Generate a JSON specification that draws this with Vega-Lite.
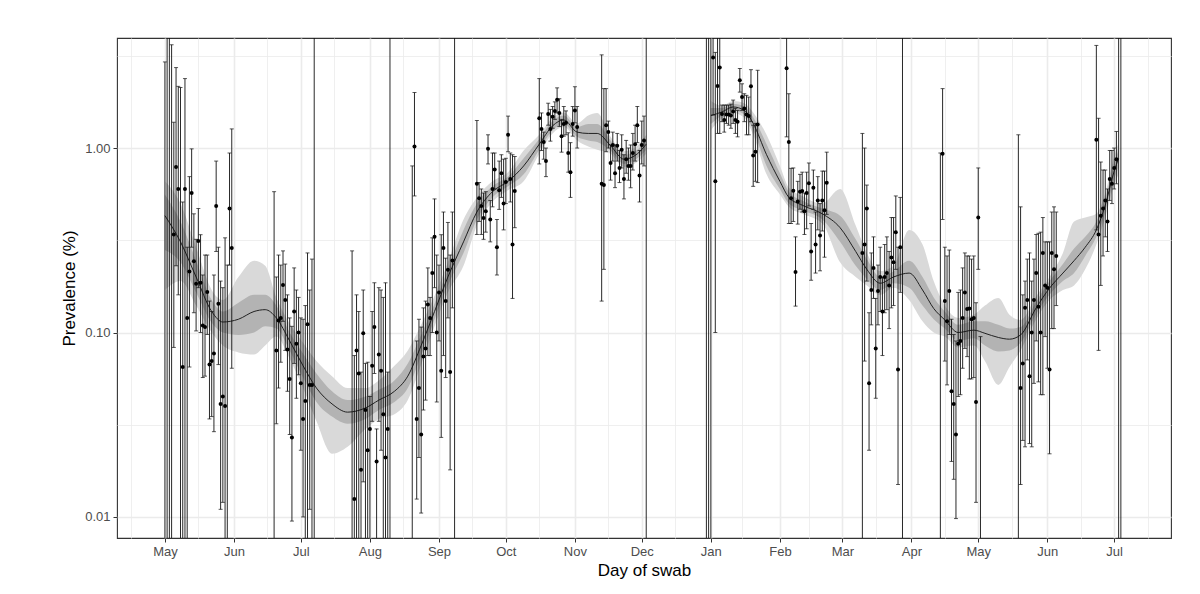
{
"$schema": "https://vega.github.io/schema/vega-lite/v6.json",
"width": 1054, "height": 500,
"autosize": {"type": "none"},
"padding": {"left": 117, "top": 38, "right": 29, "bottom": 56},
"background": "white",
"config": {
 "font": "Liberation Sans",
 "view": {"stroke": "#333333", "strokeWidth": 1.1},
 "axis": {"labelFont": "Liberation Sans", "titleFont": "Liberation Sans", "labelFontSize": 13, "labelColor": "#4d4d4d", "titleFontSize": 17, "titleFontWeight": "normal", "titleColor": "#000000", "tickColor": "#333333", "tickWidth": 1, "tickSize": 4, "domain": false, "gridColor": "#ebebeb"}
},
"datasets": {
"pts": [
{"d":"2020-05-01","v":null,"lo":0.001,"hi":2.93},
{"d":"2020-05-02","v":null,"lo":0.001,"hi":6},
{"d":"2020-05-03","v":null,"lo":0.001,"hi":6},
{"d":"2020-05-04","v":null,"lo":0.001,"hi":3.63},
{"d":"2020-05-05","v":0.34,"lo":0.083,"hi":1.38},
{"d":"2020-05-06","v":0.79,"lo":0.23,"hi":2.73},
{"d":"2020-05-07","v":0.60,"lo":0.16,"hi":2.16},
{"d":"2020-05-08","v":null,"lo":0.001,"hi":2.13},
{"d":"2020-05-09","v":0.065,"lo":0.001,"hi":0.51},
{"d":"2020-05-10","v":0.60,"lo":0.001,"hi":2.38},
{"d":"2020-05-11","v":0.12,"lo":0.001,"hi":0.29},
{"d":"2020-05-12","v":0.214,"lo":0.065,"hi":0.70},
{"d":"2020-05-13","v":0.57,"lo":0.29,"hi":0.99},
{"d":"2020-05-14","v":0.243,"lo":0.128,"hi":0.44},
{"d":"2020-05-15","v":0.184,"lo":0.102,"hi":0.32},
{"d":"2020-05-16","v":0.313,"lo":0.175,"hi":0.47},
{"d":"2020-05-17","v":0.186,"lo":0.10,"hi":0.339},
{"d":"2020-05-18","v":0.109,"lo":0.057,"hi":0.205},
{"d":"2020-05-19","v":0.107,"lo":0.058,"hi":0.263},
{"d":"2020-05-20","v":0.166,"lo":0.0975,"hi":0.263},
{"d":"2020-05-21","v":0.067,"lo":0.034,"hi":0.148},
{"d":"2020-05-22","v":0.07,"lo":0.035,"hi":0.13},
{"d":"2020-05-23","v":0.077,"lo":0.029,"hi":0.205},
{"d":"2020-05-24","v":0.485,"lo":0.275,"hi":0.85},
{"d":"2020-05-25","v":0.143,"lo":0.067,"hi":0.29},
{"d":"2020-05-26","v":0.041,"lo":0.011,"hi":0.19},
{"d":"2020-05-27","v":0.045,"lo":0.012,"hi":0.175},
{"d":"2020-05-28","v":0.040,"lo":0.001,"hi":0.326},
{"d":"2020-05-29","v":null,"lo":0.001,"hi":0.232},
{"d":"2020-05-30","v":0.47,"lo":0.232,"hi":0.94},
{"d":"2020-05-31","v":0.287,"lo":0.064,"hi":1.27},
{"d":"2020-06-19","v":null,"lo":0.001,"hi":0.58},
{"d":"2020-06-20","v":0.08,"lo":0.032,"hi":0.20},
{"d":"2020-06-21","v":0.116,"lo":0.050,"hi":0.263},
{"d":"2020-06-22","v":0.12,"lo":0.069,"hi":0.232},
{"d":"2020-06-23","v":0.181,"lo":0.115,"hi":0.277},
{"d":"2020-06-24","v":0.15,"lo":0.080,"hi":0.235},
{"d":"2020-06-25","v":0.081,"lo":0.048,"hi":0.16},
{"d":"2020-06-26","v":0.056,"lo":0.028,"hi":0.12},
{"d":"2020-06-27","v":0.027,"lo":0.0095,"hi":0.108},
{"d":"2020-06-28","v":0.13,"lo":0.068,"hi":0.224},
{"d":"2020-06-29","v":0.087,"lo":0.044,"hi":0.17},
{"d":"2020-06-30","v":0.10,"lo":0.059,"hi":0.155},
{"d":"2020-07-01","v":0.053,"lo":0.023,"hi":0.12},
{"d":"2020-07-02","v":0.034,"lo":0.010,"hi":0.118},
{"d":"2020-07-03","v":0.0425,"lo":0.001,"hi":0.14},
{"d":"2020-07-04","v":0.111,"lo":0.001,"hi":0.27},
{"d":"2020-07-05","v":0.052,"lo":0.011,"hi":0.17},
{"d":"2020-07-06","v":0.052,"lo":0.001,"hi":0.25},
{"d":"2020-07-07","v":null,"lo":0.001,"hi":6},
{"d":"2020-07-24","v":null,"lo":0.001,"hi":0.277},
{"d":"2020-07-25","v":0.0125,"lo":0.001,"hi":0.075},
{"d":"2020-07-26","v":0.080,"lo":0.001,"hi":0.16},
{"d":"2020-07-27","v":0.06,"lo":0.001,"hi":0.13},
{"d":"2020-07-28","v":0.018,"lo":0.001,"hi":0.061},
{"d":"2020-07-29","v":0.099,"lo":0.0155,"hi":0.17},
{"d":"2020-07-30","v":0.038,"lo":0.001,"hi":0.068},
{"d":"2020-07-31","v":0.023,"lo":0.001,"hi":0.069},
{"d":"2020-08-01","v":0.03,"lo":0.001,"hi":0.045},
{"d":"2020-08-02","v":0.066,"lo":0.033,"hi":0.13},
{"d":"2020-08-03","v":0.107,"lo":0.06,"hi":0.186},
{"d":"2020-08-04","v":0.02,"lo":0.001,"hi":0.03},
{"d":"2020-08-05","v":0.076,"lo":0.033,"hi":0.175},
{"d":"2020-08-06","v":0.062,"lo":0.023,"hi":0.17},
{"d":"2020-08-07","v":0.036,"lo":0.001,"hi":0.155},
{"d":"2020-08-08","v":0.021,"lo":0.001,"hi":0.186},
{"d":"2020-08-09","v":0.03,"lo":0.001,"hi":0.061},
{"d":"2020-08-10","v":null,"lo":0.001,"hi":6},
{"d":"2020-08-20","v":null,"lo":0.001,"hi":0.8},
{"d":"2020-08-21","v":1.02,"lo":0.55,"hi":2.0},
{"d":"2020-08-22","v":0.034,"lo":0.0125,"hi":0.09},
{"d":"2020-08-23","v":0.05,"lo":0.021,"hi":0.118},
{"d":"2020-08-24","v":0.028,"lo":0.0105,"hi":0.107},
{"d":"2020-08-25","v":0.074,"lo":0.038,"hi":0.136},
{"d":"2020-08-26","v":0.082,"lo":0.043,"hi":0.148},
{"d":"2020-08-27","v":0.142,"lo":0.075,"hi":0.224},
{"d":"2020-08-28","v":0.12,"lo":0.075,"hi":0.155},
{"d":"2020-08-29","v":0.21,"lo":0.10,"hi":0.326},
{"d":"2020-08-30","v":0.33,"lo":0.175,"hi":0.53},
{"d":"2020-08-31","v":0.10,"lo":0.042,"hi":0.263},
{"d":"2020-09-01","v":0.165,"lo":0.09,"hi":0.232},
{"d":"2020-09-02","v":0.062,"lo":0.027,"hi":0.339},
{"d":"2020-09-03","v":0.287,"lo":0.075,"hi":0.45},
{"d":"2020-09-04","v":0.148,"lo":0.057,"hi":0.253},
{"d":"2020-09-05","v":0.219,"lo":0.12,"hi":0.395},
{"d":"2020-09-06","v":0.061,"lo":0.018,"hi":0.263},
{"d":"2020-09-07","v":0.246,"lo":0.136,"hi":0.45},
{"d":"2020-09-08","v":null,"lo":0.001,"hi":6},
{"d":"2020-09-18","v":0.64,"lo":0.34,"hi":1.41},
{"d":"2020-09-19","v":0.535,"lo":0.40,"hi":0.65},
{"d":"2020-09-20","v":0.485,"lo":0.34,"hi":0.60},
{"d":"2020-09-21","v":0.417,"lo":0.32,"hi":0.57},
{"d":"2020-09-22","v":0.455,"lo":0.35,"hi":0.58},
{"d":"2020-09-23","v":0.99,"lo":0.82,"hi":1.18},
{"d":"2020-09-24","v":0.41,"lo":0.31,"hi":0.52},
{"d":"2020-09-25","v":0.60,"lo":0.48,"hi":0.94},
{"d":"2020-09-26","v":0.765,"lo":0.60,"hi":0.94},
{"d":"2020-09-27","v":0.29,"lo":0.205,"hi":0.41},
{"d":"2020-09-28","v":0.59,"lo":0.465,"hi":0.85},
{"d":"2020-09-29","v":0.73,"lo":0.54,"hi":0.92},
{"d":"2020-09-30","v":0.50,"lo":0.36,"hi":0.87},
{"d":"2020-10-01","v":0.655,"lo":0.50,"hi":0.88},
{"d":"2020-10-02","v":1.18,"lo":0.955,"hi":1.49},
{"d":"2020-10-03","v":0.68,"lo":0.51,"hi":0.94},
{"d":"2020-10-04","v":0.30,"lo":0.153,"hi":0.92},
{"d":"2020-10-05","v":0.585,"lo":0.37,"hi":0.90},
{"d":"2020-10-16","v":1.45,"lo":0.82,"hi":2.38},
{"d":"2020-10-17","v":1.27,"lo":0.97,"hi":1.55},
{"d":"2020-10-18","v":1.08,"lo":0.87,"hi":1.22},
{"d":"2020-10-19","v":0.85,"lo":0.70,"hi":1.0},
{"d":"2020-10-20","v":1.53,"lo":1.33,"hi":1.75},
{"d":"2020-10-21","v":1.27,"lo":1.09,"hi":1.62},
{"d":"2020-10-22","v":1.48,"lo":1.28,"hi":1.68},
{"d":"2020-10-23","v":1.59,"lo":1.43,"hi":1.78},
{"d":"2020-10-24","v":1.83,"lo":1.55,"hi":2.12},
{"d":"2020-10-25","v":1.55,"lo":1.31,"hi":1.85},
{"d":"2020-10-26","v":1.16,"lo":0.95,"hi":1.43},
{"d":"2020-10-27","v":1.35,"lo":1.16,"hi":1.68},
{"d":"2020-10-28","v":1.37,"lo":1.18,"hi":1.59},
{"d":"2020-10-29","v":0.94,"lo":0.74,"hi":1.21},
{"d":"2020-10-30","v":0.74,"lo":0.54,"hi":1.07},
{"d":"2020-10-31","v":1.35,"lo":1.16,"hi":1.68},
{"d":"2020-11-01","v":1.6,"lo":1.37,"hi":2.15},
{"d":"2020-11-02","v":1.3,"lo":1.0,"hi":1.68},
{"d":"2020-11-13","v":0.64,"lo":0.148,"hi":3.2},
{"d":"2020-11-14","v":0.63,"lo":0.22,"hi":2.1},
{"d":"2020-11-15","v":1.33,"lo":0.955,"hi":2.1},
{"d":"2020-11-16","v":1.22,"lo":1.0,"hi":1.4},
{"d":"2020-11-17","v":0.83,"lo":0.67,"hi":1.04},
{"d":"2020-11-18","v":1.04,"lo":0.85,"hi":1.22},
{"d":"2020-11-19","v":0.73,"lo":0.61,"hi":1.04},
{"d":"2020-11-20","v":1.03,"lo":0.85,"hi":1.2},
{"d":"2020-11-21","v":0.78,"lo":0.65,"hi":0.97},
{"d":"2020-11-22","v":0.98,"lo":0.78,"hi":1.18},
{"d":"2020-11-23","v":0.68,"lo":0.53,"hi":0.92},
{"d":"2020-11-24","v":0.87,"lo":0.73,"hi":1.1},
{"d":"2020-11-25","v":0.8,"lo":0.67,"hi":1.0},
{"d":"2020-11-26","v":0.8,"lo":0.61,"hi":1.04},
{"d":"2020-11-27","v":0.94,"lo":0.76,"hi":1.2},
{"d":"2020-11-28","v":1.05,"lo":0.85,"hi":1.33},
{"d":"2020-11-29","v":1.33,"lo":1.07,"hi":1.68},
{"d":"2020-11-30","v":0.71,"lo":0.51,"hi":0.97},
{"d":"2020-12-01","v":1.04,"lo":0.82,"hi":1.4},
{"d":"2020-12-02","v":1.1,"lo":0.8,"hi":1.49},
{"d":"2020-12-03","v":null,"lo":0.001,"hi":6},
{"d":"2020-12-30","v":null,"lo":0.001,"hi":6},
{"d":"2020-12-31","v":null,"lo":0.001,"hi":6},
{"d":"2021-01-01","v":null,"lo":0.001,"hi":6},
{"d":"2021-01-02","v":3.1,"lo":1.51,"hi":6},
{"d":"2021-01-03","v":0.66,"lo":0.10,"hi":3.3},
{"d":"2021-01-04","v":2.17,"lo":1.2,"hi":6},
{"d":"2021-01-05","v":2.73,"lo":1.2,"hi":6},
{"d":"2021-01-06","v":1.53,"lo":1.39,"hi":1.71},
{"d":"2021-01-07","v":1.42,"lo":1.22,"hi":1.71},
{"d":"2021-01-08","v":1.52,"lo":1.36,"hi":1.71},
{"d":"2021-01-09","v":1.52,"lo":1.33,"hi":1.71},
{"d":"2021-01-10","v":1.5,"lo":1.28,"hi":1.73},
{"d":"2021-01-11","v":1.58,"lo":1.36,"hi":1.82},
{"d":"2021-01-12","v":1.42,"lo":1.2,"hi":1.64},
{"d":"2021-01-13","v":1.39,"lo":1.15,"hi":1.6},
{"d":"2021-01-14","v":2.33,"lo":2.01,"hi":2.7},
{"d":"2021-01-15","v":1.89,"lo":1.6,"hi":2.23},
{"d":"2021-01-16","v":1.64,"lo":1.39,"hi":1.97},
{"d":"2021-01-17","v":1.52,"lo":1.18,"hi":1.93},
{"d":"2021-01-18","v":1.49,"lo":1.18,"hi":1.89},
{"d":"2021-01-19","v":2.16,"lo":1.39,"hi":2.66},
{"d":"2021-01-20","v":0.91,"lo":0.62,"hi":1.33},
{"d":"2021-01-21","v":0.955,"lo":0.66,"hi":1.36},
{"d":"2021-01-22","v":1.34,"lo":0.65,"hi":2.64},
{"d":"2021-02-04","v":2.71,"lo":1.15,"hi":6},
{"d":"2021-02-05","v":1.08,"lo":0.39,"hi":1.97},
{"d":"2021-02-06","v":0.535,"lo":0.39,"hi":0.776},
{"d":"2021-02-07","v":0.587,"lo":0.40,"hi":0.78},
{"d":"2021-02-08","v":0.213,"lo":0.139,"hi":0.33},
{"d":"2021-02-09","v":0.513,"lo":0.387,"hi":0.66},
{"d":"2021-02-10","v":0.58,"lo":0.466,"hi":0.72},
{"d":"2021-02-11","v":0.585,"lo":0.45,"hi":0.74},
{"d":"2021-02-12","v":0.455,"lo":0.34,"hi":0.57},
{"d":"2021-02-13","v":0.57,"lo":0.365,"hi":0.74},
{"d":"2021-02-14","v":0.645,"lo":0.485,"hi":0.83},
{"d":"2021-02-15","v":0.275,"lo":0.192,"hi":0.39},
{"d":"2021-02-16","v":0.61,"lo":0.466,"hi":0.76},
{"d":"2021-02-17","v":0.30,"lo":0.21,"hi":0.45},
{"d":"2021-02-18","v":0.52,"lo":0.36,"hi":0.70},
{"d":"2021-02-19","v":0.336,"lo":0.216,"hi":0.50},
{"d":"2021-02-20","v":0.52,"lo":0.355,"hi":0.75},
{"d":"2021-02-21","v":0.46,"lo":0.256,"hi":0.75},
{"d":"2021-02-22","v":0.648,"lo":0.437,"hi":0.95},
{"d":"2021-03-10","v":0.27,"lo":0.001,"hi":1.2},
{"d":"2021-03-11","v":0.30,"lo":0.07,"hi":1.0},
{"d":"2021-03-12","v":0.47,"lo":0.19,"hi":0.63},
{"d":"2021-03-13","v":0.053,"lo":0.023,"hi":0.128},
{"d":"2021-03-14","v":0.17,"lo":0.11,"hi":0.27},
{"d":"2021-03-15","v":0.224,"lo":0.153,"hi":0.33},
{"d":"2021-03-16","v":0.082,"lo":0.044,"hi":0.153},
{"d":"2021-03-17","v":0.168,"lo":0.11,"hi":0.232},
{"d":"2021-03-18","v":0.20,"lo":0.13,"hi":0.29},
{"d":"2021-03-19","v":0.13,"lo":0.075,"hi":0.20},
{"d":"2021-03-20","v":0.20,"lo":0.128,"hi":0.30},
{"d":"2021-03-21","v":0.21,"lo":0.133,"hi":0.33},
{"d":"2021-03-22","v":0.18,"lo":0.105,"hi":0.275},
{"d":"2021-03-23","v":0.255,"lo":0.136,"hi":0.42},
{"d":"2021-03-24","v":0.24,"lo":0.14,"hi":0.42},
{"d":"2021-03-25","v":0.35,"lo":0.22,"hi":0.55},
{"d":"2021-03-26","v":0.063,"lo":0.015,"hi":0.29},
{"d":"2021-03-27","v":0.29,"lo":0.165,"hi":0.54},
{"d":"2021-03-28","v":null,"lo":0.001,"hi":6},
{"d":"2021-04-14","v":null,"lo":0.001,"hi":0.94},
{"d":"2021-04-15","v":0.93,"lo":0.41,"hi":2.1},
{"d":"2021-04-16","v":0.148,"lo":0.07,"hi":0.29},
{"d":"2021-04-17","v":0.115,"lo":0.052,"hi":0.26},
{"d":"2021-04-18","v":0.168,"lo":0.0975,"hi":0.28},
{"d":"2021-04-19","v":0.048,"lo":0.02,"hi":0.118},
{"d":"2021-04-20","v":0.041,"lo":0.016,"hi":0.0975},
{"d":"2021-04-21","v":0.028,"lo":0.0098,"hi":0.09},
{"d":"2021-04-22","v":0.087,"lo":0.045,"hi":0.165},
{"d":"2021-04-23","v":0.09,"lo":0.046,"hi":0.17},
{"d":"2021-04-24","v":0.12,"lo":0.064,"hi":0.224},
{"d":"2021-04-25","v":0.165,"lo":0.082,"hi":0.27},
{"d":"2021-04-26","v":0.134,"lo":0.074,"hi":0.26},
{"d":"2021-04-27","v":0.135,"lo":0.056,"hi":0.26},
{"d":"2021-04-28","v":0.118,"lo":0.056,"hi":0.25},
{"d":"2021-04-29","v":0.12,"lo":0.057,"hi":0.26},
{"d":"2021-04-30","v":0.042,"lo":0.012,"hi":0.145},
{"d":"2021-05-01","v":0.42,"lo":0.22,"hi":0.78},
{"d":"2021-05-02","v":null,"lo":0.001,"hi":0.095},
{"d":"2021-05-19","v":null,"lo":0.001,"hi":1.18},
{"d":"2021-05-20","v":0.050,"lo":0.015,"hi":0.48},
{"d":"2021-05-21","v":0.068,"lo":0.026,"hi":0.16},
{"d":"2021-05-22","v":0.136,"lo":0.024,"hi":0.19},
{"d":"2021-05-23","v":0.15,"lo":0.071,"hi":0.25},
{"d":"2021-05-24","v":0.058,"lo":0.025,"hi":0.27},
{"d":"2021-05-25","v":0.10,"lo":0.024,"hi":0.19},
{"d":"2021-05-26","v":0.15,"lo":0.053,"hi":0.25},
{"d":"2021-05-27","v":0.21,"lo":0.09,"hi":0.34},
{"d":"2021-05-28","v":0.138,"lo":0.054,"hi":0.345},
{"d":"2021-05-29","v":0.10,"lo":0.046,"hi":0.35},
{"d":"2021-05-30","v":0.27,"lo":0.046,"hi":0.42},
{"d":"2021-05-31","v":0.18,"lo":0.095,"hi":0.31},
{"d":"2021-06-01","v":0.175,"lo":0.064,"hi":0.31},
{"d":"2021-06-02","v":0.063,"lo":0.022,"hi":0.31},
{"d":"2021-06-03","v":0.27,"lo":0.105,"hi":0.45},
{"d":"2021-06-04","v":0.22,"lo":0.105,"hi":0.48},
{"d":"2021-06-05","v":0.26,"lo":0.14,"hi":0.45},
{"d":"2021-06-23","v":1.11,"lo":0.36,"hi":3.6},
{"d":"2021-06-24","v":0.34,"lo":0.08,"hi":1.45},
{"d":"2021-06-25","v":0.43,"lo":0.18,"hi":0.84},
{"d":"2021-06-26","v":0.47,"lo":0.26,"hi":0.76},
{"d":"2021-06-27","v":0.52,"lo":0.33,"hi":0.76},
{"d":"2021-06-28","v":0.40,"lo":0.275,"hi":0.60},
{"d":"2021-06-29","v":0.68,"lo":0.52,"hi":0.97},
{"d":"2021-06-30","v":0.64,"lo":0.50,"hi":0.97},
{"d":"2021-07-01","v":0.78,"lo":0.6,"hi":1.0},
{"d":"2021-07-02","v":0.87,"lo":0.64,"hi":1.23},
{"d":"2021-07-03","v":null,"lo":0.001,"hi":6},
{"d":"2021-07-04","v":null,"lo":0.001,"hi":6}
],
"fit": [
{"d":"2020-05-01","s":"A","m":0.43,"il":0.28,"ih":0.56,"ol":0.17,"oh":0.66},
{"d":"2020-05-08","s":"A","m":0.31,"il":0.24,"ih":0.40,"ol":0.19,"oh":0.50},
{"d":"2020-05-15","s":"A","m":0.20,"il":0.165,"ih":0.245,"ol":0.14,"oh":0.29},
{"d":"2020-05-22","s":"A","m":0.13,"il":0.113,"ih":0.15,"ol":0.10,"oh":0.17},
{"d":"2020-05-27","s":"A","m":0.114,"il":0.10,"ih":0.13,"ol":0.085,"oh":0.15},
{"d":"2020-06-03","s":"A","m":0.118,"il":0.097,"ih":0.145,"ol":0.078,"oh":0.20},
{"d":"2020-06-10","s":"A","m":0.13,"il":0.10,"ih":0.16,"ol":0.076,"oh":0.245},
{"d":"2020-06-15","s":"A","m":0.133,"il":0.108,"ih":0.16,"ol":0.085,"oh":0.23},
{"d":"2020-06-20","s":"A","m":0.12,"il":0.105,"ih":0.14,"ol":0.095,"oh":0.155},
{"d":"2020-06-26","s":"A","m":0.09,"il":0.08,"ih":0.10,"ol":0.072,"oh":0.112},
{"d":"2020-07-02","s":"A","m":0.066,"il":0.057,"ih":0.077,"ol":0.05,"oh":0.088},
{"d":"2020-07-08","s":"A","m":0.05,"il":0.042,"ih":0.06,"ol":0.033,"oh":0.07},
{"d":"2020-07-15","s":"A","m":0.041,"il":0.035,"ih":0.048,"ol":0.022,"oh":0.058},
{"d":"2020-07-22","s":"A","m":0.037,"il":0.032,"ih":0.043,"ol":0.024,"oh":0.05},
{"d":"2020-07-30","s":"A","m":0.039,"il":0.034,"ih":0.045,"ol":0.03,"oh":0.05},
{"d":"2020-08-05","s":"A","m":0.043,"il":0.038,"ih":0.049,"ol":0.034,"oh":0.055},
{"d":"2020-08-12","s":"A","m":0.048,"il":0.042,"ih":0.055,"ol":0.036,"oh":0.066},
{"d":"2020-08-18","s":"A","m":0.058,"il":0.05,"ih":0.068,"ol":0.043,"oh":0.08},
{"d":"2020-08-24","s":"A","m":0.085,"il":0.075,"ih":0.097,"ol":0.067,"oh":0.11},
{"d":"2020-08-30","s":"A","m":0.13,"il":0.118,"ih":0.143,"ol":0.108,"oh":0.158},
{"d":"2020-09-05","s":"A","m":0.2,"il":0.18,"ih":0.22,"ol":0.165,"oh":0.24},
{"d":"2020-09-12","s":"A","m":0.31,"il":0.27,"ih":0.36,"ol":0.23,"oh":0.41},
{"d":"2020-09-18","s":"A","m":0.45,"il":0.41,"ih":0.5,"ol":0.38,"oh":0.54},
{"d":"2020-09-25","s":"A","m":0.58,"il":0.54,"ih":0.62,"ol":0.51,"oh":0.66},
{"d":"2020-10-02","s":"A","m":0.66,"il":0.62,"ih":0.70,"ol":0.59,"oh":0.74},
{"d":"2020-10-09","s":"A","m":0.8,"il":0.72,"ih":0.88,"ol":0.66,"oh":0.97},
{"d":"2020-10-16","s":"A","m":1.05,"il":0.98,"ih":1.12,"ol":0.93,"oh":1.18},
{"d":"2020-10-22","s":"A","m":1.32,"il":1.25,"ih":1.40,"ol":1.2,"oh":1.46},
{"d":"2020-10-27","s":"A","m":1.42,"il":1.35,"ih":1.5,"ol":1.3,"oh":1.56},
{"d":"2020-11-02","s":"A","m":1.22,"il":1.15,"ih":1.3,"ol":1.1,"oh":1.36},
{"d":"2020-11-07","s":"A","m":1.2,"il":1.1,"ih":1.35,"ol":1.02,"oh":1.5},
{"d":"2020-11-11","s":"A","m":1.2,"il":1.08,"ih":1.35,"ol":0.98,"oh":1.55},
{"d":"2020-11-17","s":"A","m":1.03,"il":0.97,"ih":1.1,"ol":0.93,"oh":1.15},
{"d":"2020-11-23","s":"A","m":0.87,"il":0.82,"ih":0.92,"ol":0.79,"oh":0.96},
{"d":"2020-11-29","s":"A","m":0.93,"il":0.88,"ih":0.98,"ol":0.84,"oh":1.03},
{"d":"2020-12-03","s":"A","m":1.05,"il":0.98,"ih":1.12,"ol":0.93,"oh":1.18},
{"d":"2021-01-01","s":"B","m":1.5,"il":1.35,"ih":1.65,"ol":1.25,"oh":1.8},
{"d":"2021-01-06","s":"B","m":1.57,"il":1.5,"ih":1.65,"ol":1.45,"oh":1.7},
{"d":"2021-01-11","s":"B","m":1.67,"il":1.6,"ih":1.74,"ol":1.55,"oh":1.8},
{"d":"2021-01-16","s":"B","m":1.6,"il":1.52,"ih":1.68,"ol":1.46,"oh":1.75},
{"d":"2021-01-20","s":"B","m":1.36,"il":1.25,"ih":1.47,"ol":1.18,"oh":1.56},
{"d":"2021-01-26","s":"B","m":0.92,"il":0.8,"ih":1.05,"ol":0.72,"oh":1.18},
{"d":"2021-02-01","s":"B","m":0.66,"il":0.6,"ih":0.73,"ol":0.56,"oh":0.8},
{"d":"2021-02-05","s":"B","m":0.54,"il":0.5,"ih":0.58,"ol":0.48,"oh":0.61},
{"d":"2021-02-11","s":"B","m":0.49,"il":0.46,"ih":0.52,"ol":0.44,"oh":0.55},
{"d":"2021-02-20","s":"B","m":0.44,"il":0.41,"ih":0.47,"ol":0.39,"oh":0.5},
{"d":"2021-02-28","s":"B","m":0.37,"il":0.31,"ih":0.43,"ol":0.24,"oh":0.6},
{"d":"2021-03-07","s":"B","m":0.275,"il":0.23,"ih":0.32,"ol":0.2,"oh":0.38},
{"d":"2021-03-12","s":"B","m":0.22,"il":0.195,"ih":0.25,"ol":0.18,"oh":0.27},
{"d":"2021-03-18","s":"B","m":0.185,"il":0.17,"ih":0.2,"ol":0.16,"oh":0.215},
{"d":"2021-03-24","s":"B","m":0.2,"il":0.185,"ih":0.215,"ol":0.175,"oh":0.23},
{"d":"2021-03-31","s":"B","m":0.21,"il":0.175,"ih":0.245,"ol":0.15,"oh":0.36},
{"d":"2021-04-06","s":"B","m":0.17,"il":0.14,"ih":0.2,"ol":0.115,"oh":0.3},
{"d":"2021-04-11","s":"B","m":0.135,"il":0.118,"ih":0.155,"ol":0.1,"oh":0.19},
{"d":"2021-04-16","s":"B","m":0.117,"il":0.105,"ih":0.13,"ol":0.095,"oh":0.14},
{"d":"2021-04-22","s":"B","m":0.10,"il":0.09,"ih":0.11,"ol":0.083,"oh":0.12},
{"d":"2021-04-29","s":"B","m":0.103,"il":0.093,"ih":0.115,"ol":0.085,"oh":0.125},
{"d":"2021-05-04","s":"B","m":0.099,"il":0.085,"ih":0.115,"ol":0.07,"oh":0.14},
{"d":"2021-05-10","s":"B","m":0.094,"il":0.079,"ih":0.11,"ol":0.052,"oh":0.154},
{"d":"2021-05-15","s":"B","m":0.092,"il":0.08,"ih":0.105,"ol":0.065,"oh":0.125},
{"d":"2021-05-20","s":"B","m":0.097,"il":0.088,"ih":0.107,"ol":0.08,"oh":0.117},
{"d":"2021-05-27","s":"B","m":0.136,"il":0.126,"ih":0.147,"ol":0.118,"oh":0.157},
{"d":"2021-06-02","s":"B","m":0.174,"il":0.16,"ih":0.19,"ol":0.15,"oh":0.2},
{"d":"2021-06-08","s":"B","m":0.21,"il":0.19,"ih":0.235,"ol":0.17,"oh":0.27},
{"d":"2021-06-13","s":"B","m":0.245,"il":0.21,"ih":0.285,"ol":0.18,"oh":0.40},
{"d":"2021-06-18","s":"B","m":0.29,"il":0.26,"ih":0.33,"ol":0.22,"oh":0.42},
{"d":"2021-06-23","s":"B","m":0.36,"il":0.33,"ih":0.4,"ol":0.3,"oh":0.44},
{"d":"2021-06-27","s":"B","m":0.49,"il":0.45,"ih":0.53,"ol":0.42,"oh":0.57},
{"d":"2021-07-01","s":"B","m":0.75,"il":0.68,"ih":0.83,"ol":0.63,"oh":0.9},
{"d":"2021-07-03","s":"B","m":0.88,"il":0.79,"ih":0.98,"ol":0.72,"oh":1.07}
]
},
"resolve": {"axis": {"x": "independent", "y": "independent"}},
"layer": [
{
 "data": {"name": "fit"},
 "mark": {"type": "area", "color": "#d9d9d9", "interpolate": "monotone", "clip": true},
 "encoding": {
  "x": {"field": "d", "type": "temporal", "scale": {"type": "utc", "domain": [{"year": 2020, "month": 4, "date": 9, "hours": 12, "utc": true}, {"year": 2021, "month": 7, "date": 26, "hours": 12, "utc": true}]},
   "axis": {"orient": "bottom", "title": null, "labels": false, "ticks": false, "domain": false, "grid": true, "gridWidth": 0.8,
    "values": [{"year":2020,"month":4,"date":16,"utc":true},{"year":2020,"month":5,"date":16,"utc":true},{"year":2020,"month":6,"date":16,"utc":true},{"year":2020,"month":7,"date":16,"utc":true},{"year":2020,"month":8,"date":16,"utc":true},{"year":2020,"month":9,"date":16,"utc":true},{"year":2020,"month":10,"date":16,"utc":true},{"year":2020,"month":11,"date":16,"utc":true},{"year":2020,"month":12,"date":16,"utc":true},{"year":2021,"month":1,"date":15,"utc":true},{"year":2021,"month":2,"date":14,"utc":true},{"year":2021,"month":3,"date":16,"utc":true},{"year":2021,"month":4,"date":16,"utc":true},{"year":2021,"month":5,"date":16,"utc":true},{"year":2021,"month":6,"date":16,"utc":true},{"year":2021,"month":7,"date":16,"utc":true}]}},
  "y": {"field": "ol", "type": "quantitative", "scale": {"type": "log", "domain": [0.00769, 3.95], "nice": false},
   "axis": {"orient": "left", "title": null, "labels": false, "ticks": false, "domain": false, "grid": true, "gridWidth": 0.8, "values": [0.03162, 0.3162, 3.162]}},
  "y2": {"field": "oh"},
  "detail": {"field": "s"}
 }
},
{
 "data": {"name": "fit"},
 "mark": {"type": "area", "color": "#b3b3b3", "interpolate": "monotone", "clip": true},
 "encoding": {
  "x": {"field": "d", "type": "temporal", "axis": null},
  "y": {"field": "il", "type": "quantitative", "axis": null},
  "y2": {"field": "ih"},
  "detail": {"field": "s"}
 }
},
{
 "data": {"name": "fit"},
 "mark": {"type": "line", "color": "#222222", "strokeWidth": 1, "interpolate": "monotone", "clip": true},
 "encoding": {
  "x": {"field": "d", "type": "temporal", "axis": null},
  "y": {"field": "m", "type": "quantitative", "axis": null},
  "detail": {"field": "s"}
 }
},
{
 "data": {"name": "pts"},
 "mark": {"type": "rule", "color": "#111111", "strokeWidth": 0.9, "clip": true},
 "encoding": {
  "x": {"field": "d", "type": "temporal",
   "axis": {"orient": "bottom", "title": "Day of swab", "labelExpr": "utcFormat(datum.value, '%b')", "grid": true, "gridWidth": 1.6, "labelPadding": 3, "titlePadding": 4,
    "values": [{"year":2020,"month":5,"date":1,"utc":true},{"year":2020,"month":6,"date":1,"utc":true},{"year":2020,"month":7,"date":1,"utc":true},{"year":2020,"month":8,"date":1,"utc":true},{"year":2020,"month":9,"date":1,"utc":true},{"year":2020,"month":10,"date":1,"utc":true},{"year":2020,"month":11,"date":1,"utc":true},{"year":2020,"month":12,"date":1,"utc":true},{"year":2021,"month":1,"date":1,"utc":true},{"year":2021,"month":2,"date":1,"utc":true},{"year":2021,"month":3,"date":1,"utc":true},{"year":2021,"month":4,"date":1,"utc":true},{"year":2021,"month":5,"date":1,"utc":true},{"year":2021,"month":6,"date":1,"utc":true},{"year":2021,"month":7,"date":1,"utc":true}]}},
  "y": {"field": "lo", "type": "quantitative",
   "axis": {"orient": "left", "title": "Prevalence (%)", "format": ".2f", "values": [0.01, 0.1, 1], "grid": true, "gridWidth": 1.6, "labelPadding": 3, "titlePadding": 6}},
  "y2": {"field": "hi"}
 }
},
{
 "data": {"name": "pts"},
 "mark": {"type": "tick", "orient": "horizontal", "color": "#111111", "size": 4, "thickness": 1, "clip": true},
 "encoding": {
  "x": {"field": "d", "type": "temporal", "axis": null},
  "y": {"field": "hi", "type": "quantitative", "axis": null}
 }
},
{
 "data": {"name": "pts"},
 "mark": {"type": "tick", "orient": "horizontal", "color": "#111111", "size": 4, "thickness": 1, "clip": true},
 "encoding": {
  "x": {"field": "d", "type": "temporal", "axis": null},
  "y": {"field": "lo", "type": "quantitative", "axis": null}
 }
},
{
 "data": {"name": "pts"},
 "mark": {"type": "circle", "color": "#000000", "size": 16, "opacity": 1, "clip": true},
 "encoding": {
  "x": {"field": "d", "type": "temporal", "axis": null},
  "y": {"field": "v", "type": "quantitative", "axis": null}
 }
}
]
}
